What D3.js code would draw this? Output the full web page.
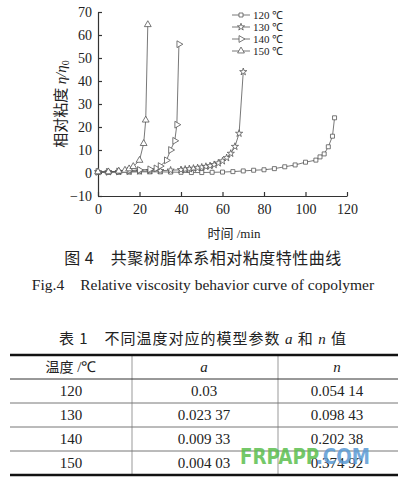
<!DOCTYPE html>
<html>
<head>
<meta charset="utf-8">
<script src="https://cdn.jsdelivr.net/npm/d3@7"></script>
<style>
body { margin: 0; background: #fff; }
svg { display: block; }
</style>
</head>
<body>
<div id="chart"></div>
<script>
// series (time /min, relative viscosity)
var t120 = [0, 5, 10, 15, 20, 25, 30, 35, 40, 45, 50, 55, 60, 65, 70, 75, 80, 85, 90, 95, 100, 105, 107, 109, 111, 113, 114];
var v120 = [0.3, 0.3, 0.3, 0.4, 0.5, 0.5, 0.5, 0.4, 0.3, 0.2, 0.2, 0.3, 0.4, 0.6, 0.9, 1.2, 1.4, 1.9, 2.7, 3.5, 4.7, 5.6, 7, 8.3, 11.4, 16, 24];
var t130 = [0, 5, 10, 15, 20, 25, 30, 35, 40, 42, 44, 46, 48, 50, 52, 54, 56, 58, 60, 62, 64, 66, 68, 70];
var v130 = [0.5, 0.5, 0.6, 0.7, 0.8, 0.9, 1, 1.2, 1.4, 1.6, 1.8, 2, 2.2, 2.5, 2.8, 3.1, 3.6, 4.3, 5.2, 6.6, 8.5, 11.5, 17.2, 44];
var t140 = [0, 5, 10, 15, 20, 25, 28, 30, 33, 35, 37, 38, 39];
var v140 = [0.5, 0.5, 0.7, 1, 1.3, 1.6, 2, 3, 5.5, 10, 14, 21, 56];
var t150 = [0, 5, 10, 13, 15, 17, 20, 22, 23, 24];
var v150 = [0.5, 0.5, 0.8, 1.2, 1.8, 2.8, 5.5, 12.8, 23, 64.5];

var seriesNames = ["120 ℃", "130 ℃", "140 ℃", "150 ℃"];
var xTicks = [0, 20, 40, 60, 80, 100, 120];
var yTicks = [-10, 0, 10, 20, 30, 40, 50, 60, 70];

var tableHead = ["温度 /℃", "a", "n"];
var tempCol = ["120", "130", "140", "150"];
var aCol = ["0.03", "0.023 37", "0.009 33", "0.004 03"];
var nCol = ["0.054 14", "0.098 43", "0.202 38", "0.374 92"];

var series = [
  {name: seriesNames[0], t: t120, v: v120, sym: d3.symbolSquare, size: 16, rot: 0},
  {name: seriesNames[1], t: t130, v: v130, sym: d3.symbolStar, size: 16, rot: 0},
  {name: seriesNames[2], t: t140, v: v140, sym: d3.symbolTriangle, size: 20, rot: 90},
  {name: seriesNames[3], t: t150, v: v150, sym: d3.symbolTriangle, size: 20, rot: 0}
];

var width = 399, height = 479;
var serif = "'Liberation Serif', 'Times New Roman', serif";
var cjk = "'Noto Sans CJK SC', sans-serif";
var ink = "#333";

var svg = d3.select("#chart").append("svg")
    .attr("width", width)
    .attr("height", height);

var x = d3.scaleLinear().domain([0, 120]).range([98, 347]);
var y = d3.scaleLinear().domain([-10, 70]).range([196, 12]);

var xAxis = svg.append("g")
    .attr("transform", "translate(0," + y(-10) + ")")
    .call(d3.axisBottom(x).tickValues(xTicks).tickSizeInner(-4).tickSizeOuter(0).tickPadding(8));
var yAxis = svg.append("g")
    .attr("transform", "translate(" + x(0) + ",0)")
    .call(d3.axisLeft(y).tickValues(yTicks).tickSizeInner(-4).tickSizeOuter(0).tickPadding(6));

[xAxis, yAxis].forEach(function(a) {
  a.select(".domain").attr("stroke", ink).attr("stroke-width", 1.2);
  a.selectAll(".tick line").attr("stroke", ink).attr("stroke-width", 1.2);
  a.selectAll(".tick text").attr("fill", "#222")
    .style("font-family", serif).style("font-size", "14px");
});

var line = d3.line()
    .x(function(d) { return x(d[0]); })
    .y(function(d) { return y(d[1]); });

series.forEach(function(s) {
  var pts = s.t.map(function(t, i) { return [t, s.v[i]]; });
  svg.append("path")
    .datum(pts)
    .attr("d", line)
    .attr("fill", "none")
    .attr("stroke", "#555")
    .attr("stroke-width", 0.8);
  svg.selectAll(null)
    .data(pts)
    .enter()
    .append("path")
      .attr("d", d3.symbol().type(s.sym).size(s.size))
      .attr("transform", function(d) {
        return "translate(" + x(d[0]) + "," + y(d[1]) + ") rotate(" + s.rot + ")";
      })
      .attr("fill", "#fff")
      .attr("stroke", "#555")
      .attr("stroke-width", 0.8);
});

// legend
var legend = svg.selectAll(".legend")
    .data(series)
    .enter()
    .append("g")
      .attr("class", "legend")
      .attr("transform", function(d, i) { return "translate(232," + (15 + i * 12) + ")"; });

legend.append("line")
    .attr("x1", 0).attr("x2", 18)
    .attr("stroke", "#555").attr("stroke-width", 0.8);
legend.append("path")
    .attr("d", function(d) { return d3.symbol().type(d.sym).size(d.size)(); })
    .attr("transform", function(d) { return "translate(9,0) rotate(" + d.rot + ")"; })
    .attr("fill", "#fff").attr("stroke", "#555").attr("stroke-width", 0.8);
legend.append("text")
    .attr("x", 21)
    .attr("dy", "0.35em")
    .style("font-family", serif)
    .style("font-size", "11px")
    .attr("fill", "#222")
    .text(function(d) { return d.name; });

// axis titles
var ylab = svg.append("text")
    .attr("transform", "translate(66,104) rotate(-90)")
    .attr("text-anchor", "middle")
    .attr("fill", "#222")
    .style("font-size", "15px");
ylab.append("tspan").style("font-family", cjk).text("相对粘度 ");
ylab.append("tspan").style("font-family", serif).style("font-style", "italic").text("η/η");
ylab.append("tspan").style("font-family", serif).style("font-size", "10px").attr("dy", 3).text("0");

var xlab = svg.append("text")
    .attr("x", 234).attr("y", 238)
    .attr("text-anchor", "middle")
    .attr("fill", "#222")
    .style("font-size", "13px");
xlab.append("tspan").style("font-family", cjk).text("时间");
xlab.append("tspan").style("font-family", serif).text(" /min");

// captions
svg.append("text")
    .attr("x", 203).attr("y", 264)
    .attr("text-anchor", "middle")
    .attr("fill", "#222")
    .style("font-family", cjk).style("font-size", "16px")
    .style("letter-spacing", "0.5px")
    .text("图 4　共聚树脂体系相对粘度特性曲线");

svg.append("text")
    .attr("x", 203).attr("y", 290)
    .attr("text-anchor", "middle")
    .attr("fill", "#222")
    .style("font-family", serif).style("font-size", "15.5px")
    .text("Fig.4　Relative viscosity behavior curve of copolymer");

var ttl = svg.append("text")
    .attr("x", 203).attr("y", 344)
    .attr("text-anchor", "middle")
    .attr("fill", "#222")
    .style("font-family", cjk).style("font-size", "15px")
    .style("letter-spacing", "1px");
ttl.append("tspan").text("表 1　不同温度对应的模型参数 ");
ttl.append("tspan").style("font-family", serif).style("font-style", "italic").text("a");
ttl.append("tspan").text(" 和 ");
ttl.append("tspan").style("font-family", serif).style("font-style", "italic").text("n");
ttl.append("tspan").text(" 值");

// table
var colX = d3.scaleOrdinal().domain([0, 1, 2]).range([71, 204, 337]);
var rowY = d3.scaleBand().domain(d3.range(5)).range([355, 475]);

var table = svg.append("g");
[132, 278].forEach(function(cx) {
  table.append("line")
    .attr("x1", cx).attr("x2", cx).attr("y1", 355).attr("y2", 475)
    .attr("stroke", "#999").attr("stroke-width", 1);
});
d3.range(1, 5).forEach(function(r) {
  table.append("line")
    .attr("x1", 10).attr("x2", 398)
    .attr("y1", rowY(r)).attr("y2", rowY(r))
    .attr("stroke", r === 1 ? "#333" : "#777").attr("stroke-width", 1);
});
[355, 475].forEach(function(ry) {
  table.append("line")
    .attr("x1", 10).attr("x2", 398).attr("y1", ry).attr("y2", ry)
    .attr("stroke", "#111").attr("stroke-width", 2.5);
});

var rows = [tableHead].concat(tempCol.map(function(t, i) { return [t, aCol[i], nCol[i]]; }));
rows.forEach(function(row, r) {
  row.forEach(function(cell, c) {
    var txt = table.append("text")
      .attr("x", colX(c))
      .attr("y", rowY(r) + rowY.bandwidth() / 2)
      .attr("dy", "0.35em")
      .attr("text-anchor", "middle")
      .attr("fill", "#222")
      .style("font-family", serif)
      .style("font-size", "15px");
    if (r === 0 && c === 0) {
      txt.append("tspan").style("font-family", cjk).style("font-size", "14px").text("温度");
      txt.append("tspan").text(" /℃");
    } else {
      if (r === 0) txt.style("font-style", "italic");
      txt.text(cell);
    }
  });
});

// watermark
var wm = svg.append("text")
    .attr("x", 240).attr("y", 464)
    .attr("textLength", 130)
    .attr("lengthAdjust", "spacingAndGlyphs")
    .style("font-family", "'DejaVu Sans', sans-serif")
    .style("font-weight", "bold")
    .style("font-size", "21px")
    .attr("opacity", 0.85);
wm.append("tspan").attr("fill", "#5cbf4f").text("FRPAPP");
wm.append("tspan").attr("fill", "#5b9bd5").text(".COM");
</script>
</body>
</html>
